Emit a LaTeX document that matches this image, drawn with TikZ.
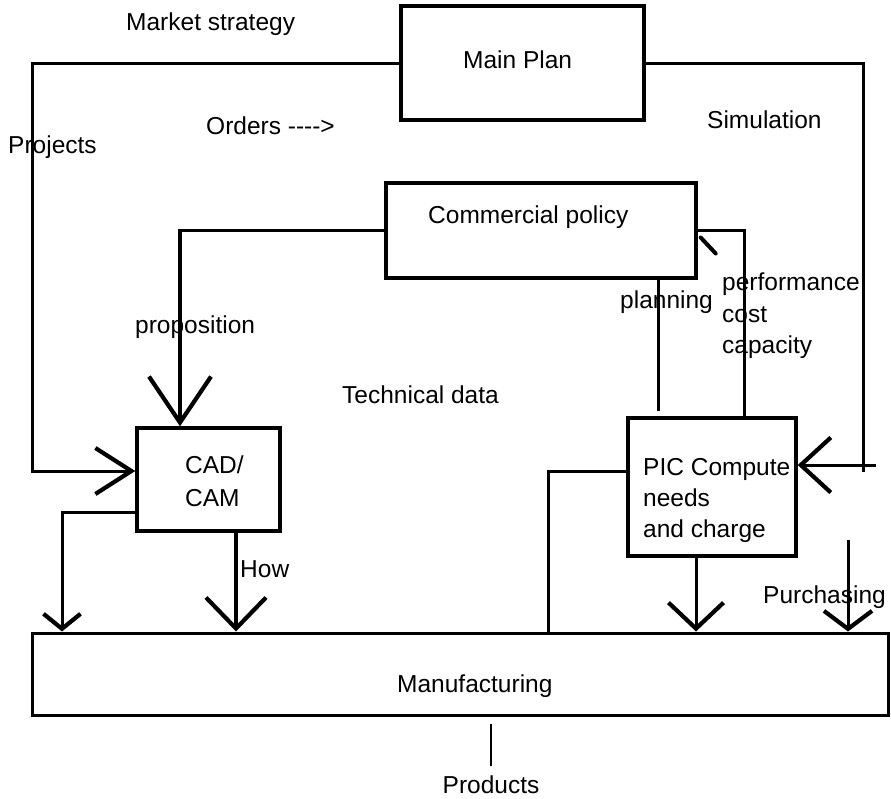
\documentclass[tikz,border=0pt]{standalone}
\usepackage{fontspec}
\setmainfont{Liberation Sans}
\usetikzlibrary{arrows.meta}
\begin{document}
\begin{tikzpicture}[x=1pt,y=-1pt,
  box/.style={draw, line width=3.4pt, inner sep=0pt},
  lbl/.style={inner sep=0pt, anchor=base west, font=\fontsize{24.5}{30}\selectfont},
  wire/.style={line width=3pt},
  barbhead/.style args={#1/#2}{-{Straight Barb[length=#1pt,width=#2pt,line width=4.2pt]}},
]
\useasboundingbox (0,0) rectangle (891,798);

% blocks
\node[box, minimum width=243pt, minimum height=114pt] (main) at (522.5,63) {};
\node[box, minimum width=310pt, minimum height=95pt]  (com)  at (541,230.5) {};
\node[box, minimum width=143pt, minimum height=103pt] (cad)  at (208.5,479.5) {};
\node[box, minimum width=168pt, minimum height=138pt] (pic)  at (712,487) {};
\node[box, line width=3pt, minimum width=856pt, minimum height=82pt] (mfg) at (460,674) {};

% block texts
\node[lbl] (t-main) at (463,68) {Main Plan};
\node[lbl] (t-com)  at (428,223) {Commercial policy};
\node[lbl] (t-cad1) at (185,473) {CAD/};
\node[lbl] (t-cad2) at (185,506) {CAM};
\node[lbl] (t-pic1) at (643,475) {PIC Compute};
\node[lbl] (t-pic2) at (643,506) {needs};
\node[lbl] (t-pic3) at (643,537) {and charge};
\node[lbl] (t-mfg)  at (397,692) {Manufacturing};

% flow labels
\node[lbl] (l-market) at (126,30)  {Market strategy};
\node[lbl] (l-orders) at (206,134) {Orders -{}-{}-{}->};
\node[lbl] (l-proj)   at (8,153)   {Projects};
\node[lbl] (l-sim)    at (707,128) {Simulation};
\node[lbl] (l-prop)   at (135,333) {proposition};
\node[lbl] (l-tech)   at (342,403) {Technical data};
\node[lbl] (l-plan)   at (620,308) {planning};
\node[lbl] (l-perf)   at (722,290) {performance};
\node[lbl] (l-cost)   at (722,322) {cost};
\node[lbl] (l-cap)    at (722,353) {capacity};
\node[lbl] (l-how)    at (240,577) {How};
\node[lbl] (l-purch)  at (763,603) {Purchasing};
\node[lbl, anchor=base] (prod) at (491,793) {Products};

% connectors
\draw[wire, barbhead=36/46] (main.west) -| (32,471) -- ([yshift=8.5pt]cad.west);
\draw[wire] (main.east) -| (863,472);
\coordinate (simin) at (876,465);
\draw[wire, barbhead=30/55] (simin) -- (simin -| pic.east);

\draw[wire, line width=3.4pt, barbhead=46/62] (com.west) -| ([xshift=-28.5pt]cad.north);
\draw[wire, barbhead=15/37] ([yshift=-32.5pt]cad.west) -| ([xshift=-398pt]mfg.north);
\draw[wire, line width=3.4pt, barbhead=31/60] ([xshift=27.5pt]cad.south) coordinate (how) -- (how |- mfg.north);

\draw[wire] ([yshift=16pt]pic.west) -| ([xshift=88pt]mfg.north);
\draw[wire, barbhead=26/55] ([xshift=-16pt]pic.south) coordinate (picdn) -- (picdn |- mfg.north);
\coordinate (purch) at (848,540);
\draw[wire, barbhead=18/48] (purch) -- (purch |- mfg.north);

\draw[wire] ([xshift=117pt]com.south) -- ++(0,131);
\draw[wire] ([xshift=32pt]pic.north) |- (com.east);
\draw[wire, line width=4pt, line cap=round] ([shift={(3pt,-7pt)}]com.east) -- ++(15,16);

\draw[wire, line width=2.6pt] ([xshift=31pt,yshift=-7pt]mfg.south) -- ([yshift=9pt]prod.north);
\end{tikzpicture}
\end{document}
